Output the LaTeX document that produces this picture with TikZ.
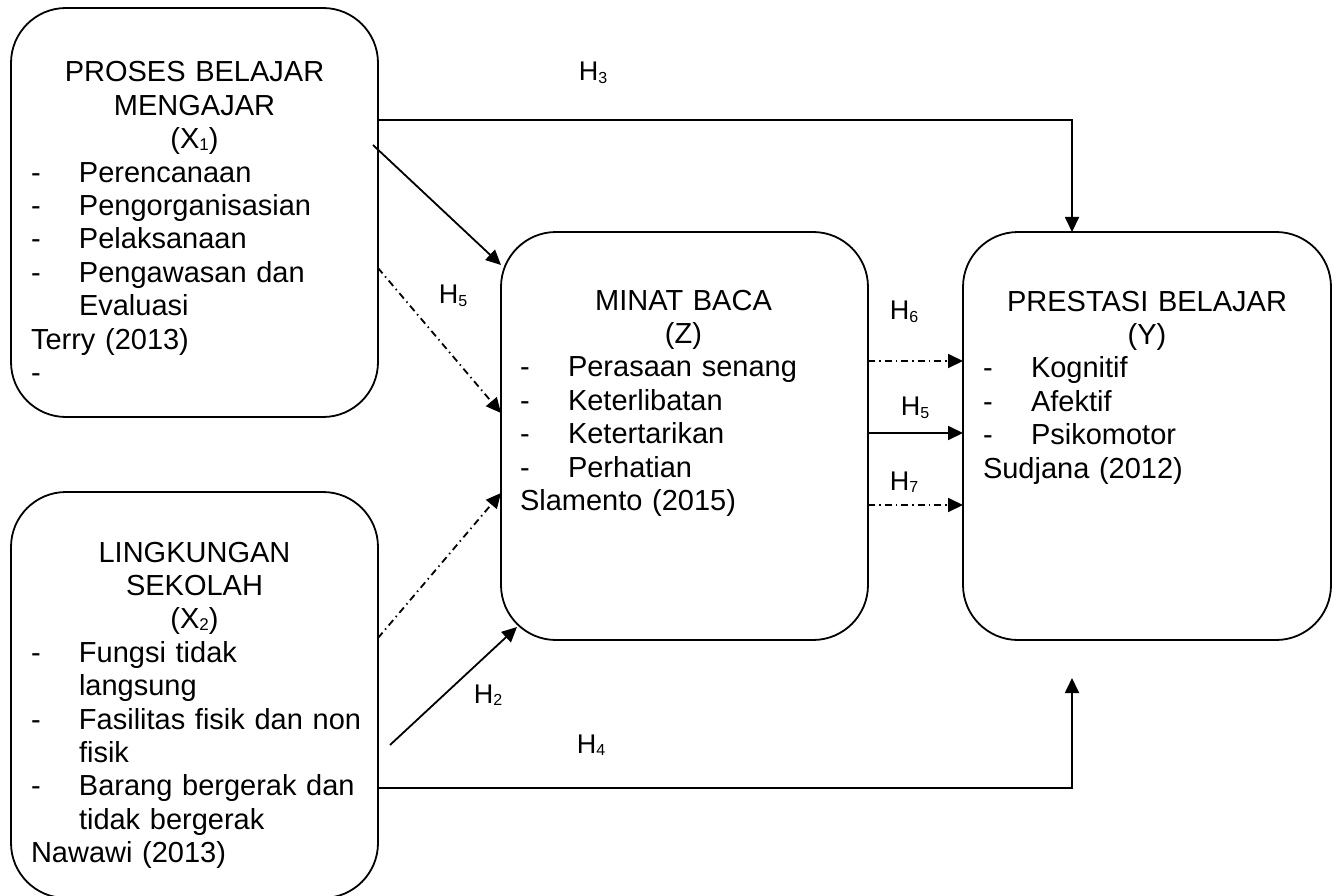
\documentclass[tikz,border=0pt]{standalone}
\usepackage{fontspec}
\setmainfont{Liberation Sans}
\usetikzlibrary{arrows.meta}
% subscript helpers for the variable names and the hypothesis labels
\newcommand\tsub[1]{\raisebox{-2pt}{\fontsize{17}{17}\selectfont #1}}
\newcommand\hsub[1]{\raisebox{-2.5pt}{\fontsize{16}{16}\selectfont #1}}
% centred title line, bulleted item, and continued item line
\newcommand\ttl[1]{\makebox[327pt][c]{#1}}
\newcommand\itm[1]{\makebox[48pt][l]{-}#1}
\newcommand\cnt[1]{\hspace*{48pt}#1}
\begin{document}
\begin{tikzpicture}[x=1pt,y=-1pt,
  box/.style={draw, line width=1.8pt, rounded corners=55pt, inner sep=0pt,
    outer sep=0pt, anchor=north west},
  txt/.style={anchor=base west, inner sep=0pt, outer sep=0pt, align=left,
    text width=420pt, font=\fontsize{29}{33.4}\selectfont},
  lbl/.style={inner sep=0pt, font=\fontsize{27}{27}\selectfont},
  arr/.style={line width=1.8pt, -{Triangle[length=15pt,width=14pt]}},
  dd/.style={dash pattern=on 7pt off 4pt on 1.5pt off 4pt}]
\useasboundingbox (0,0) rectangle (1338,896);

% variable boxes
\node[box, minimum width=367pt, minimum height=409pt] (x1) at (11,8) {};
\node[box, minimum width=367pt, minimum height=406pt] (x2) at (11,492) {};
\node[box, minimum width=367pt, minimum height=408pt] (z) at (501,232) {};
\node[box, minimum width=368pt, minimum height=408pt] (y) at (963,232) {};

% box contents
\node[txt] (x1t) at (31,82) {\ttl{PROSES BELAJAR}\\ \ttl{MENGAJAR}\\ \ttl{(X\tsub{1})}\\
  \itm{Perencanaan}\\ \itm{Pengorganisasian}\\ \itm{Pelaksanaan}\\
  \itm{Pengawasan dan}\\ \cnt{Evaluasi}\\ Terry (2013)\\ -};
\node[txt] (x2t) at (31,562) {\ttl{LINGKUNGAN}\\ \ttl{SEKOLAH}\\ \ttl{(X\tsub{2})}\\
  \itm{Fungsi tidak}\\ \cnt{langsung}\\ \itm{Fasilitas fisik dan non}\\ \cnt{fisik}\\
  \itm{Barang bergerak dan}\\ \cnt{tidak bergerak}\\ Nawawi (2013)};
\node[txt] (zt) at (520,310) {\ttl{MINAT BACA}\\ \ttl{(Z)}\\
  \itm{Perasaan senang}\\ \itm{Keterlibatan}\\ \itm{Ketertarikan}\\ \itm{Perhatian}\\
  Slamento (2015)};
\node[txt] (yt) at (983,311) {\makebox[328pt][c]{PRESTASI BELAJAR}\\ \makebox[328pt][c]{(Y)}\\
  \itm{Kognitif}\\ \itm{Afektif}\\ \itm{Psikomotor}\\ Sudjana (2012)};

% connectors
\draw[arr] ([yshift=-112pt]x1.north east) -| ([xshift=109pt]y.north west);
\draw[arr] ([xshift=-5pt,yshift=-137pt]x1.north east) -- ([yshift=-33pt]z.north west);
\draw[arr,dd] ([yshift=-260pt]x1.north east) -- ([yshift=-181pt]z.north west);
\draw[arr,dd] ([yshift=-146pt]x2.north east) -- ([yshift=-261pt]z.north west);
\draw[arr] ([xshift=12pt,yshift=-253pt]x2.north east) -- ([xshift=16pt,yshift=13pt]z.south west);
\draw[arr] ([yshift=-296pt]x2.north east) -| ([xshift=109pt,yshift=-38pt]y.south west);
\draw[arr,dd] ([yshift=-129pt]z.north east) -- ([yshift=-129pt]y.north west);
\draw[arr] ([yshift=-201pt]z.north east) -- ([yshift=-201pt]y.north west);
\draw[arr,dd] ([yshift=-273pt]z.north east) -- ([yshift=-273pt]y.north west);

% hypothesis labels
\node[lbl] (h3) at (593,73) {H\hsub{3}};
\node[lbl] (h4) at (591,745) {H\hsub{4}};
\node[lbl] (h5a) at (453,296) {H\hsub{5}};
\node[lbl] (h2) at (488,695) {H\hsub{2}};
\node[lbl] (h6) at (904,312) {H\hsub{6}};
\node[lbl] (h5b) at (915,408) {H\hsub{5}};
\node[lbl] (h7) at (904,482) {H\hsub{7}};
\end{tikzpicture}
\end{document}
